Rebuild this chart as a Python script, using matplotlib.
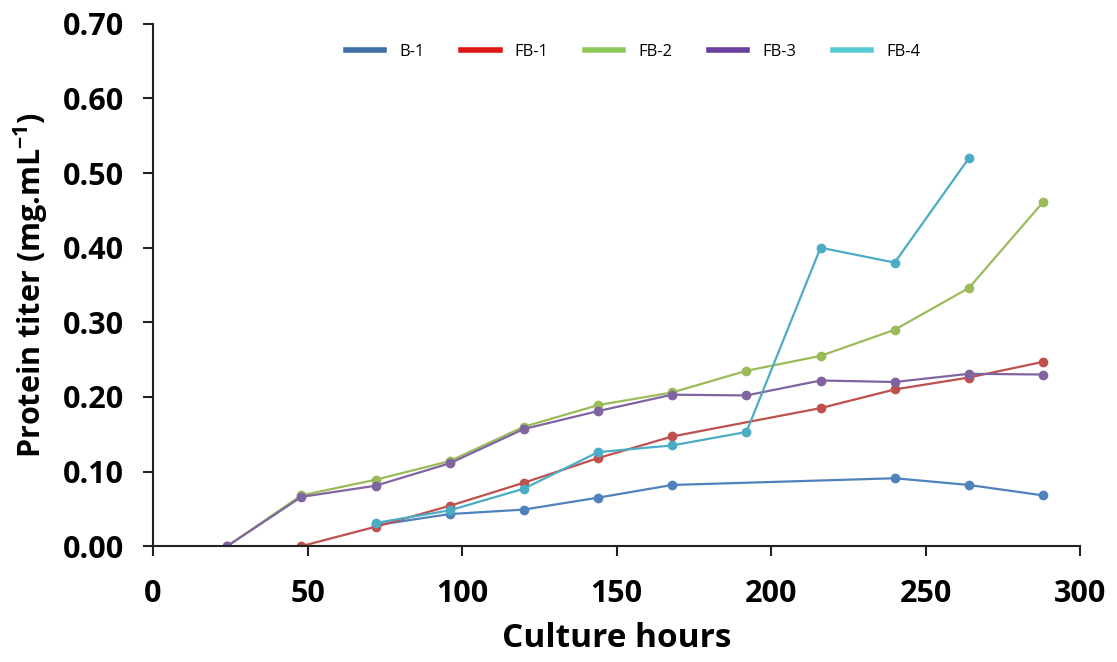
import matplotlib
matplotlib.use("Agg")
import matplotlib.pyplot as plt
import numpy as np

plt.rcParams['font.family'] = ['Open Sans', 'DejaVu Sans']
plt.rcParams['mathtext.fontset'] = 'custom'
plt.rcParams['mathtext.bf'] = 'Open Sans:bold'

hours = [24, 48, 72, 96, 120, 144, 168, 192, 216, 240, 264, 288]
nan = np.nan

# protein titer (mg/mL), nan = not measured
b1 = [nan, nan, 0.028, 0.043, 0.049, 0.065, 0.082, nan, nan, 0.091, 0.082, 0.068]
fb1 = [0.0, 0.0, 0.026, 0.054, 0.085, 0.118, 0.147, nan, 0.185, 0.210, 0.226, 0.247]
fb2 = [0.0, 0.068, 0.089, 0.114, 0.160, 0.189, 0.206, 0.235, 0.255, 0.290, 0.346, 0.461]
fb3 = [0.0, 0.066, 0.081, 0.111, 0.157, 0.181, 0.203, 0.202, 0.222, 0.220, 0.231, 0.230]
fb4 = [nan, nan, 0.031, 0.048, 0.077, 0.126, 0.135, 0.153, 0.400, 0.380, 0.520, nan]

names = ["B-1", "FB-1", "FB-2", "FB-3", "FB-4"]
values = [b1, fb1, fb2, fb3, fb4]
line_cols = ["#4F81BD", "#C0504D", "#9BBB59", "#8064A2", "#4BACC6"]
legend_cols = ["#3F6FA8", "#E01515", "#8DC85B", "#6B3FA0", "#55CCD5"]

fig = plt.figure(figsize=(11.17, 6.62), dpi=100)
ax = fig.add_axes([0.137, 0.175, 0.83, 0.789])

x = np.array(hours, dtype=float)
for name, vals, col in zip(names, values, line_cols):
    y = np.array(vals, dtype=float)
    m = ~np.isnan(y)
    ax.plot(x[m], y[m], '-o', color=col, lw=1.6, ms=6, label=name)

ax.set_xlim(0, 300)
ax.set_ylim(0, 0.70)
ax.set_xticks(np.arange(0, 301, 50))
ax.set_yticks(np.arange(0, 0.71, 0.1))
ax.set_yticklabels(["%.2f" % v for v in np.arange(0, 0.71, 0.1)])
for s in ['top', 'right']:
    ax.spines[s].set_visible(False)
for s in ['left', 'bottom']:
    ax.spines[s].set_linewidth(1.5)
    ax.spines[s].set_color('#222222')
ax.tick_params(direction='out', length=7, width=1.5, labelsize=22, pad=14, color='#222222')
ax.tick_params(axis='x', pad=17)
for lab in ax.get_xticklabels() + ax.get_yticklabels():
    lab.set_fontweight('bold')

ax.set_xlabel("Culture hours", fontsize=24, fontweight='bold', labelpad=9)
ax.set_ylabel("Protein titer (mg.mL$\\mathbf{^{-1}}$)", fontsize=22, fontweight='bold', labelpad=9)

handles = [plt.Line2D([0], [0], color=c, lw=4) for c in legend_cols]
ax.legend(handles, names, loc='center', bbox_to_anchor=(0.518, 0.946),
          ncol=5, frameon=False, fontsize=12, handlelength=2.3,
          handletextpad=0.9, columnspacing=2.2)

fig.savefig("out.png", dpi=100)
